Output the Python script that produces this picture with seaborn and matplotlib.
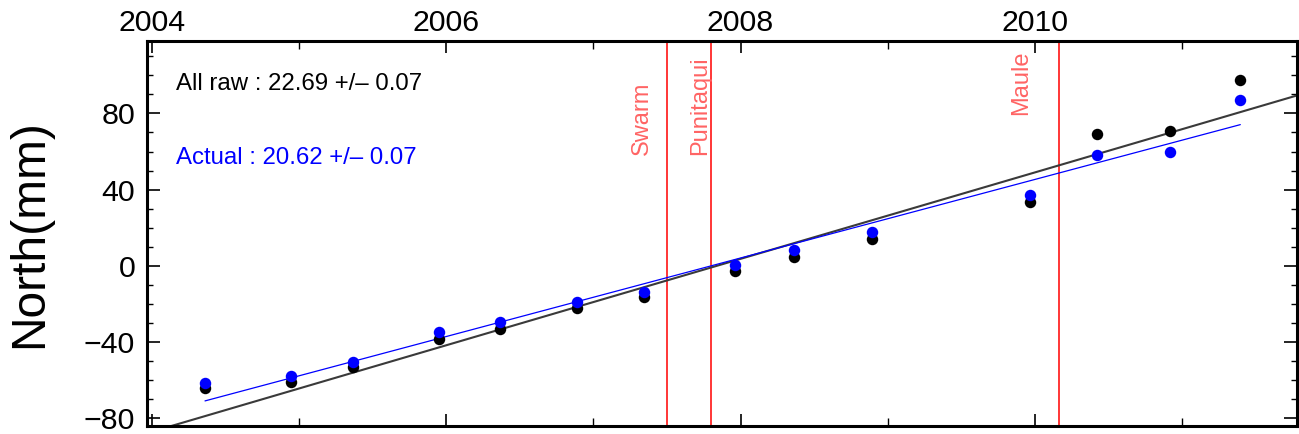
import numpy as np
import pandas as pd
import matplotlib
matplotlib.use("Agg")
import matplotlib.pyplot as plt
from matplotlib.ticker import MultipleLocator
import seaborn as sns

# ---------------- data ----------------
epochs = [2004.362, 2004.949, 2005.368, 2005.949, 2006.365, 2006.890, 2007.345,
          2007.963, 2008.363, 2008.893, 2009.963, 2010.423, 2010.918, 2011.394]
north_raw = [-64.3, -60.8, -52.9, -38.4, -33.3, -21.9, -16.5,
             -2.6, 4.8, 14.1, 33.6, 69.0, 70.9, 97.5]
north_actual = [-61.3, -57.6, -50.3, -34.5, -29.6, -19.1, -13.6,
                0.4, 8.1, 17.6, 37.1, 58.1, 59.9, 87.0]

raw_rate = 22.69          # mm/yr
raw_zero_epoch = 2007.838
actual_rate = 20.62       # mm/yr
actual_zero_epoch = 2007.800
rate_error = 0.07

event_names = ["Swarm", "Punitaqui", "Maule"]
event_epochs = [2007.499, 2007.800, 2010.163]

x_tick_labels = ["2004", "2006", "2008", "2010"]
y_tick_labels = ["\u221280", "\u221240", "0", "40", "80"]

# ---------------- style ----------------
sns.set_style("white")
plt.rcParams["font.family"] = ["Liberation Sans", "DejaVu Sans"]
plt.rcParams["text.color"] = "black"
plt.rcParams["axes.labelcolor"] = "black"
plt.rcParams["xtick.color"] = "black"
plt.rcParams["ytick.color"] = "black"

fig = plt.figure(figsize=(12.99, 4.34), dpi=100)
ax = fig.add_axes([147 / 1299, (434 - 425.5) / 434, 1150 / 1299, 384.5 / 434])

xlim = (2003.968, 2011.779)
ylim = (-83.8, 118.0)
ax.set_xlim(*xlim)
ax.set_ylim(*ylim)

# event lines
for ev in event_epochs:
    ax.axvline(ev, color="#FF0000", linewidth=1.1, zorder=1)

# fit lines
raw_fit = pd.DataFrame({"t": [xlim[0] - 0.1, xlim[1] + 0.1]})
raw_fit["y"] = raw_rate * (raw_fit["t"] - raw_zero_epoch)
act_fit = pd.DataFrame({"t": [epochs[0], epochs[-1]]})
act_fit["y"] = actual_rate * (act_fit["t"] - actual_zero_epoch)

sns.lineplot(data=raw_fit, x="t", y="y", color="#3a3a3a", linewidth=1.5,
             estimator=None, ax=ax, zorder=2)
sns.lineplot(data=act_fit, x="t", y="y", color="#0000FF", linewidth=0.9,
             estimator=None, ax=ax, zorder=2)

# points
sns.scatterplot(x=epochs, y=north_raw, color="black", s=68, linewidth=0,
                ax=ax, zorder=4)
sns.scatterplot(x=epochs, y=north_actual, color="#0000FF", s=68, linewidth=0,
                ax=ax, zorder=5)

ax.set_xlim(*xlim)
ax.set_ylim(*ylim)

# ticks
ax.xaxis.set_major_locator(MultipleLocator(2))
ax.xaxis.set_minor_locator(MultipleLocator(1))
ax.yaxis.set_major_locator(MultipleLocator(40))
ax.yaxis.set_minor_locator(MultipleLocator(10))
ax.set_xticks([2004, 2006, 2008, 2010])
ax.set_xticklabels(x_tick_labels)
ax.set_yticks([-80, -40, 0, 40, 80])
ax.set_yticklabels(y_tick_labels)

ax.tick_params(axis="both", which="both", direction="in", top=True, right=True,
               bottom=True, left=True, colors="black", labelcolor="black")
ax.tick_params(axis="x", which="major", length=8.8, width=1.2,
               labeltop=True, labelbottom=False, labelsize=21.8, pad=3)
ax.tick_params(axis="x", which="minor", length=6.0, width=1.0)
ax.tick_params(axis="y", which="major", length=9.4, width=1.2,
               labelsize=21.8, pad=8.5)
ax.tick_params(axis="y", which="minor", length=4.5, width=1.0)

for sp in ax.spines.values():
    sp.set_visible(True)
    sp.set_linewidth(2.2)
    sp.set_color("black")

ax.set_xlabel("")
ax.set_ylabel("North(mm)", fontsize=34.5, labelpad=23, color="black")

# annotations
ax.text(0.0252, 0.8726, f"All raw : {raw_rate:.2f} +/\u2013 {rate_error:.2f}",
        transform=ax.transAxes, fontsize=17.3, color="black", va="baseline", ha="left")
ax.text(0.0252, 0.680, f"Actual : {actual_rate:.2f} +/\u2013 {rate_error:.2f}",
        transform=ax.transAxes, fontsize=17.3, color="#0000FF", va="baseline", ha="left")

label_x = [2007.372, 2007.766, 2009.946]
label_y = [58.2, 58.2, 79.2]
for name, lx, ly in zip(event_names, label_x, label_y):
    ax.text(lx, ly, name, rotation=90, rotation_mode="anchor", ha="left",
            va="baseline", fontsize=17, color="#FF6464", zorder=3)

fig.savefig("out.png", dpi=100)
